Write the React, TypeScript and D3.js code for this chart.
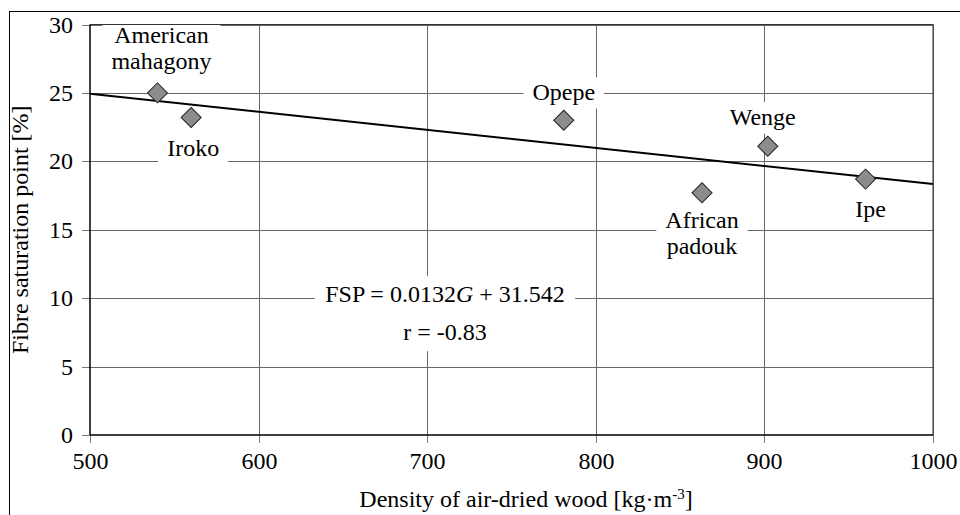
import React from "react";
import * as d3 from "d3";

const width = 960;
const height = 515;
const font = "Liberation Serif";
const fs = 24;

// wood species, density of air-dried wood [kg/m3], fibre saturation point [%]
const species = ["American mahagony", "Iroko", "Opepe", "Wenge", "African padouk", "Ipe"];
const density = [540, 560, 781, 902, 863, 960];
const fsp = [25.0, 23.2, 23.0, 21.1, 17.7, 18.7];

const xTicks = [500, 600, 700, 800, 900, 1000];
const yTicks = [0, 5, 10, 15, 20, 25, 30];

// regression FSP = 0.0132G + 31.542 (falling line)
const slope = -0.0132;
const intercept = 31.542;

// label placement relative to the point: [dx, dy of first baseline]
const labelOffsets = [
  [4, -50],
  [2, 38],
  [0, -20],
  [-5, -21],
  [0, 35],
  [5, 38],
];

const x = d3.scaleLinear().domain([500, 1000]).range([90, 933]);
const y = d3.scaleLinear().domain([0, 30]).range([435, 24.5]);

let ctx = null;
const measure = (s, italic = false) => {
  if (!ctx) ctx = document.createElement("canvas").getContext("2d");
  ctx.font = `${italic ? "italic " : ""}${fs}px "${font}"`;
  return ctx.measureText(s).width;
};

const ascent = 0.84 * fs;
const descent = 0.216 * fs;

const App = () => {
  const line = d3
    .line<number>()
    .x((d) => x(d))
    .y((d) => y(slope * d + intercept));
  const diamond = d3.symbol(d3.symbolSquare, 200)();

  const labels = species.map((name, i) => {
    const [dx, dy] = labelOffsets[i];
    const cx = x(density[i]) + dx;
    const by = y(fsp[i]) + dy;
    const words = name.split(" ");
    const w = Math.max(...words.map((s) => measure(s)));
    return { cx, by, words, w };
  });

  const eqX = 445;
  const eqY = 302;
  const rX = 445;
  const rY = 340;
  const eqW = measure("FSP = 0.0132") + measure("G", true) + measure(" + 31.542");
  const rW = measure("r = -0.83");
  const eqL = Math.min(eqX - eqW / 2, rX - rW / 2) - 10;
  const eqR = Math.max(eqX + eqW / 2, rX + rW / 2) + 10;

  const textStyle = { fontFamily: font };

  return (
    <svg
      width={width}
      height={height}
      style={{ position: "absolute", left: 0, top: 0, background: "#fff", fontFamily: font }}
    >
      {/* outer frame */}
      <rect x={9.5} y={11.5} width={980} height={540} fill="none" stroke="#000" />

      {/* grid */}
      <g stroke="#666">
        {yTicks.slice(1).map((t) => (
          <line
            key={"h" + t}
            x1={x(500)}
            x2={x(1000)}
            y1={Math.round(y(t)) + 0.5}
            y2={Math.round(y(t)) + 0.5}
          />
        ))}
        {xTicks.slice(1).map((t) => (
          <line
            key={"v" + t}
            x1={Math.round(x(t)) + 0.5}
            x2={Math.round(x(t)) + 0.5}
            y1={y(30)}
            y2={y(0)}
          />
        ))}
      </g>

      {/* label backgrounds */}
      <g fill="#fff">
        {labels.map((l, i) => (
          <rect
            key={i}
            x={l.cx - l.w / 2 - 9}
            y={l.by - ascent - 3}
            width={l.w + 18}
            height={ascent + descent + (l.words.length - 1) * 26 + 6}
          />
        ))}
        <rect
          x={eqL}
          y={eqY - ascent - 6}
          width={eqR - eqL}
          height={rY - eqY + ascent + descent + 12}
        />
      </g>

      {/* trend line */}
      <path d={line([500, 1000])} fill="none" stroke="#000" strokeWidth={2} />

      {/* markers */}
      {density.map((d, i) => (
        <path
          key={i}
          d={diamond}
          transform={`translate(${x(d)},${y(fsp[i])}) rotate(45)`}
          fill="#8c8c8c"
          stroke="#222"
        />
      ))}

      {/* point labels */}
      {labels.map((l, i) => (
        <text key={i} textAnchor="middle" fontSize={fs} style={textStyle}>
          {l.words.map((w, j) => (
            <tspan key={j} x={l.cx} y={l.by + j * 26}>
              {w}
            </tspan>
          ))}
        </text>
      ))}

      {/* equation */}
      <text x={eqX} y={eqY} textAnchor="middle" fontSize={fs} style={textStyle}>
        FSP = 0.0132<tspan fontStyle="italic">G</tspan> + 31.542
      </text>
      <text x={rX} y={rY} textAnchor="middle" fontSize={fs} style={textStyle}>
        r = -0.83
      </text>

      {/* plot border top/right */}
      <path d={`M${x(500)},${y(30)}H${x(1000)}V${y(0)}`} fill="none" stroke="#333" />

      {/* x axis */}
      <g>
        {xTicks.map((t) => (
          <g key={t} transform={`translate(${Math.round(x(t)) + 0.5},${y(0)})`}>
            <line y2={8} stroke="#777" />
            <text y={17} dy="0.71em" textAnchor="middle" fontSize={fs} style={textStyle}>
              {t}
            </text>
          </g>
        ))}
        <line x1={x(500)} x2={x(1000)} y1={y(0)} y2={y(0)} stroke="#000" strokeWidth={1.5} />
      </g>

      {/* y axis */}
      <g>
        {yTicks.map((t) => (
          <g key={t} transform={`translate(${x(500)},${Math.round(y(t)) + 0.5})`}>
            <line x2={-8} stroke="#777" />
            <text x={-17} dy="0.32em" textAnchor="end" fontSize={fs} style={textStyle}>
              {t}
            </text>
          </g>
        ))}
        <line x1={x(500)} x2={x(500)} y1={y(30)} y2={y(0)} stroke="#000" strokeWidth={1.5} />
      </g>

      {/* axis titles */}
      <text x={526} y={507} textAnchor="middle" fontSize={fs} style={textStyle}>
        Density of air-dried wood [kg·m
        <tspan fontSize={15} dy={-8}>
          -3
        </tspan>
        <tspan dy={8}>]</tspan>
      </text>
      <text
        transform={`translate(28,${(y(0) + y(30)) / 2}) rotate(-90)`}
        textAnchor="middle"
        fontSize={fs}
        style={textStyle}
      >
        Fibre saturation point [%]
      </text>
    </svg>
  );
};

export default App;
